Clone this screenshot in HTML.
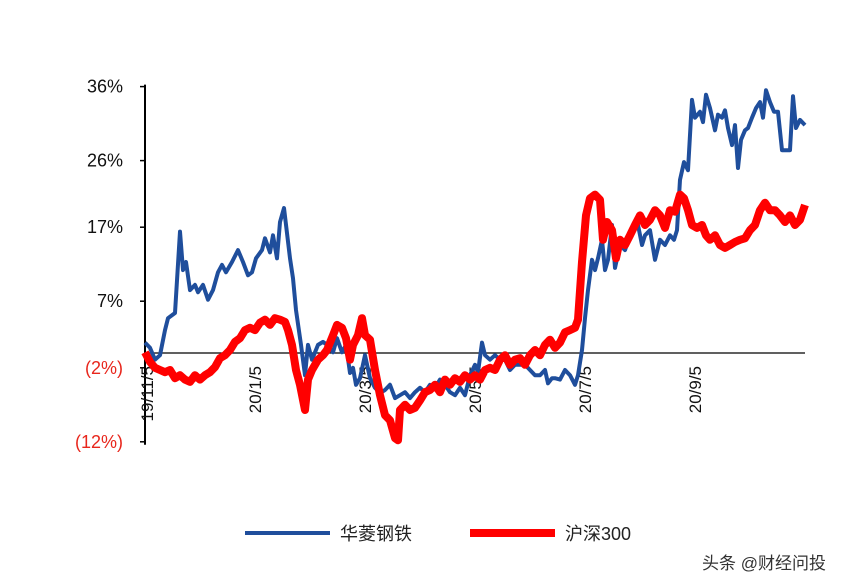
<!DOCTYPE html>
<html><head><meta charset="utf-8"><style>
html,body{margin:0;padding:0;background:#fff;}
svg{display:block;font-family:"Liberation Sans","Noto Sans CJK SC",sans-serif;}
</style></head><body>
<svg id="chart" width="866" height="588" viewBox="0 0 866 588">
<rect width="866" height="588" fill="#fff"/>
<g id="grid"></g>
<g id="series"></g>
<g>
<line x1="245" y1="533" x2="330" y2="533" stroke="#1f4e9c" stroke-width="4"/>
<text x="340" y="540" font-size="18" fill="#222">华菱钢铁</text>
<line x1="470" y1="533" x2="555" y2="533" stroke="#ff0000" stroke-width="8"/>
<text x="565" y="540" font-size="18" fill="#222">沪深300</text>
</g>
<text x="702" y="569" font-size="17" fill="#333">头条 @财经问投</text>
</svg>
<script>
const yTicks=[36,26,17,7,-2,-12];
const yTickLabels=["36%","26%","17%","7%","(2%)","(12%)"];
const xTickDays=[2,110,220,330,440,550];
const xTickLabels=["19/11/5","20/1/5","20/3/5","20/5/5","20/7/5","20/9/5"];
const blueDays=[0,5,10,15,20,23,30,35,38,41,45,50,53,58,63,68,73,77,81,87,93,98,103,107,111,117,120,125,128,132,135,139,145,148,151,156,160,163,167,173,178,182,188,192,197,201,205,208,211,215,220,225,230,235,240,245,250,255,260,265,270,275,280,285,290,295,300,305,310,315,320,325,330,333,337,340,345,350,355,360,365,370,375,380,385,390,395,400,403,407,410,415,420,425,430,433,437,440,443,447,450,453,457,460,463,467,470,475,480,485,490,493,497,500,505,510,515,520,525,529,532,535,539,543,547,550,555,558,561,565,570,573,577,580,583,587,590,593,596,600,603,607,611,615,618,621,625,629,633,637,641,645,648,651,655,660];
const blueVals=[1.4,0.7,-0.9,-0.3,3.1,4.7,5.4,16.4,11.2,12.3,8.5,9.2,8.2,9.2,7.2,8.5,10.9,11.9,10.9,12.3,13.9,12.3,10.5,10.9,12.8,13.9,15.5,13.6,15.9,12.8,17.7,19.6,12.8,10.1,5.8,1.1,-3.0,1.1,-0.9,1.1,1.5,1.1,0.1,2.0,0.1,1.1,-2.7,-2.0,-4.3,-3.4,-0.3,-3.4,-4.7,-5.4,-5.0,-4.3,-6.1,-5.7,-5.3,-6.1,-5.3,-4.7,-5.3,-4.3,-4.7,-3.6,-4.3,-5.3,-5.7,-4.7,-5.7,-3.0,-1.6,-2.6,1.4,-0.3,-0.9,-0.3,-0.9,-0.9,-2.3,-1.6,-1.6,-1.6,-2.3,-3.0,-3.0,-2.3,-4.1,-3.4,-3.4,-3.6,-2.3,-3.0,-4.3,-3.0,0.4,4.7,8.5,12.6,11.2,12.8,15.3,11.2,12.6,17.3,11.5,14.6,13.9,15.9,17.7,17.3,14.6,15.9,16.6,12.6,15.3,14.6,15.9,15.3,16.6,23.4,25.8,24.7,34.2,31.8,32.6,31.2,34.9,33.1,30.1,32.2,31.8,32.8,30.4,28.1,30.8,25.0,28.8,30.1,30.4,31.8,33.1,33.9,31.8,35.5,33.9,32.6,32.6,27.4,27.4,27.4,34.7,30.4,31.5,30.8];
const redDays=[0,5,10,15,20,25,30,35,40,45,50,55,60,65,70,75,80,85,90,95,100,105,110,115,120,125,130,135,140,143,147,151,155,160,163,167,173,178,182,188,192,197,201,205,208,213,217,220,225,230,235,240,245,250,253,255,260,265,270,275,280,285,290,295,300,305,310,315,320,325,330,335,340,345,350,355,360,365,370,375,380,385,390,395,400,405,410,415,420,425,430,433,437,441,445,450,455,458,462,467,471,475,480,485,490,495,500,505,510,515,520,525,530,535,539,543,547,552,557,561,565,570,575,580,585,590,595,600,605,610,615,620,625,630,635,640,645,650,655,660];
const redVals=[0.1,-1.2,-2.0,-2.3,-2.6,-2.3,-3.4,-3.0,-3.6,-3.9,-3.0,-3.6,-3.0,-2.6,-1.9,-0.7,-0.3,0.4,1.5,2.0,3.1,3.4,3.1,4.1,4.5,3.8,4.7,4.5,4.2,3.1,1.1,-2.3,-4.3,-7.7,-3.6,-2.3,-0.9,-0.3,0.4,2.4,3.8,3.4,2.0,-0.9,1.1,2.4,4.7,2.4,1.8,-2.3,-5.7,-8.4,-9.1,-11.5,-11.8,-7.7,-7.0,-7.7,-7.4,-6.4,-5.3,-5.0,-4.3,-5.3,-3.6,-4.3,-3.4,-3.9,-3.0,-3.6,-3.0,-3.6,-2.3,-2.0,-2.3,-0.9,-0.3,-1.6,-0.9,-0.7,-1.6,-0.3,0.4,-0.3,1.1,1.8,0.7,1.4,2.8,3.1,3.4,4.5,12.3,18.6,20.9,21.4,20.7,15.3,17.7,16.6,12.8,15.3,14.6,15.9,17.3,18.6,17.3,18.0,19.3,18.6,16.9,19.3,19.1,21.4,20.9,19.3,17.3,16.9,17.3,15.9,15.3,15.9,14.6,14.2,14.6,15.0,15.3,15.5,16.6,17.3,19.3,20.3,19.3,19.3,18.6,17.7,18.6,17.3,18.0,20.0];

const NS="http://www.w3.org/2000/svg";
const X0=145,X1=805,DMAX=660;
function xs(d){return X0+(X1-X0)*d/DMAX;}
function ys(v){return 353-v*7.4;}
function mk(tag,attrs,parent){const e=document.createElementNS(NS,tag);for(const k in attrs)e.setAttribute(k,attrs[k]);parent.appendChild(e);return e;}
const grid=document.getElementById('grid'),series=document.getElementById('series');

let zl=mk('line',{x1:X0,x2:X1,y1:ys(0),y2:ys(0),stroke:'#000','stroke-width':1.2},grid);


let ax=mk('line',{x1:X0,x2:X0,y1:ys(36)-2,y2:ys(-12)+3,stroke:'#000','stroke-width':2},grid);


yTicks.forEach((v,i)=>{
  const t=mk('line',{x1:X0-5,x2:X0,y1:ys(v),y2:ys(v),stroke:'#000','stroke-width':1.5},grid);
  
  
  const l=mk('text',{x:123,y:ys(v)+6,'text-anchor':'end','font-size':18,fill:v<0?'#e8261c':'#111'},grid);
  l.textContent=yTickLabels[i];
  
  
});
xTickDays.forEach((d,i)=>{
  const x=xs(d)+6,y=366;
  const l=mk('text',{x:x,y:y,'text-anchor':'end','font-size':17,fill:'#111',transform:`rotate(-90 ${x} ${y})`},grid);
  l.textContent=xTickLabels[i];
  
  
});
function path(days,vals){const n=Math.min(days.length,vals.length);let s='';for(let i=0;i<n;i++)s+=(i?'L':'M')+xs(days[i]).toFixed(1)+','+ys(vals[i]).toFixed(1);return s;}
const bp=mk('path',{d:path(blueDays,blueVals),fill:'none',stroke:'#1f4e9c','stroke-width':4,'stroke-linejoin':'round'},series);


const rp=mk('path',{d:path(redDays,redVals),fill:'none',stroke:'#ff0000','stroke-width':8,'stroke-linejoin':'round'},series);


</script>
</body></html>
